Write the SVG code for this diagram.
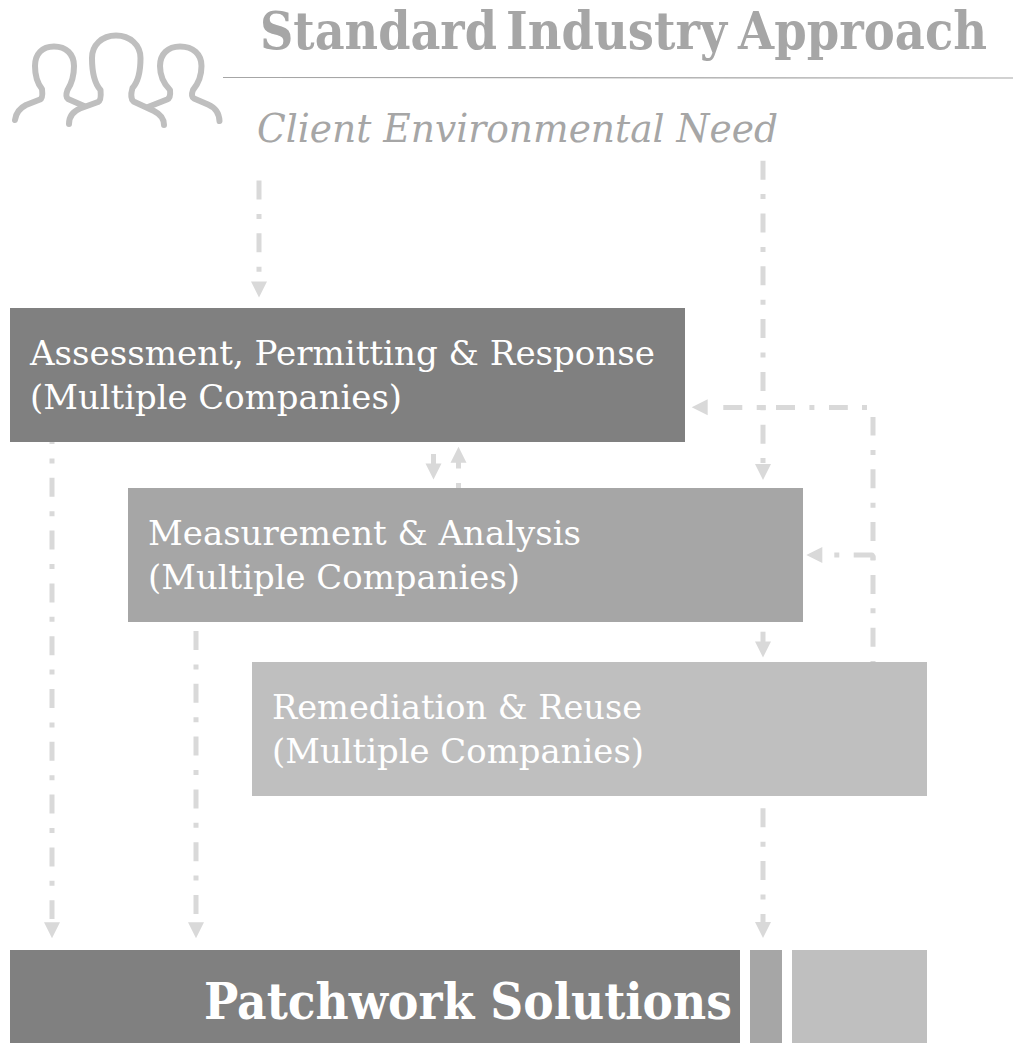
<svg xmlns="http://www.w3.org/2000/svg" width="1013" height="1043" viewBox="0 0 1013 1043">
  <style>
    text { font-family: "DejaVu Serif", "Liberation Serif", serif; }
    .light { fill: #ffffff; font-size: 33px; }
    .head { fill: #a6a6a6; }
    .dd { fill: none; stroke: #d9d9d9; stroke-width: 5; stroke-dasharray: 19 14.4 5 14.4; }
    .solid { fill: none; stroke: #d9d9d9; stroke-width: 5; }
    .ah { fill: #d9d9d9; }
    .person { fill: none; stroke: #bfbfbf; stroke-width: 6; stroke-linecap: round; stroke-linejoin: round; }
  </style>
  <defs>
    <polygon id="ah" class="ah" points="-8,0 8,0 0,16"/>
  </defs>
  <rect width="1013" height="1043" fill="#ffffff"/>

  <g id="connectors">
    <path class="dd" d="M259,180.500V272"/>
    <use href="#ah" x="259" y="281.500"/>
    <path class="dd" d="M763,160.700V463"/>
    <use href="#ah" x="763" y="464"/>
    <path class="solid" d="M433.500,454V466"/>
    <use href="#ah" x="433.500" y="463.500"/>
    <path class="solid" d="M458.500,458V468.500M458.500,483V488"/>
    <use href="#ah" transform="translate(458.500,462.700) rotate(180)"/>
    <path class="dd" d="M873,646.700V417M873,666V661"/>
    <path class="solid" d="M867,407.500H862M847.800,407.500H829M814.400,407.500H809.400M795,407.500H776M765.700,407.500H756.700M742.300,407.500H723.300"/>
    <use href="#ah" transform="translate(707.700,407.300) rotate(90)"/>
    <path class="solid" d="M853.700,555H871.500Q873,555 873,558V560M839.300,555H834.300"/>
    <use href="#ah" transform="translate(822.300,555) rotate(90)"/>
    <path class="solid" d="M763,631.700V644"/>
    <use href="#ah" x="763" y="641.500"/>
    <path class="dd" d="M763,808.300V925"/>
    <use href="#ah" x="763" y="922"/>
    <path class="dd" d="M52,442V919" style="stroke-dashoffset:17"/>
    <use href="#ah" x="52" y="922.300"/>
    <path class="dd" d="M196,631V914.500"/>
    <use href="#ah" x="196" y="922.300"/>
  </g>

  <g id="icon-people">
    <path class="person" d="M15,120C16,112 20,108 26,105L40,99.500C43,98 42.500,93 42,89C38,84 35,76 35,66C35,54 42,46.500 54,46.500C66,46.500 74,54 74,66C74,76 72,83 67.500,90C66,94 65.500,97 68,99L84,106"/>
    <path class="person" d="M69,124C69,116 74,111 80,108.500L98,102C101,100.500 101,95 100.500,90C95,84 92,74 92,58C92,45 102,35.500 116,35.500C130,35.500 140.500,45 140.500,58C140.500,74 138,82 132.500,88C131,93 131,99 133.500,101.500L154,111C160,114 164,118 164,125"/>
    <path class="person" d="M148,107L167,99.500C170.500,98 170.500,94 170,90C163,83 160,76 160,66C160,54 168,46.500 180,46.500C193,46.500 201.500,54 201.500,66C201.500,76 198,84 193,90C191.500,94 191.500,97 194,98.500L208,104.500C214,107 219,112 219.500,121"/>
  </g>

  <g id="header">
    <text class="head" transform="translate(260,49) scale(0.82,1)" font-size="53" font-weight="700"><tspan x="0" textLength="289" lengthAdjust="spacingAndGlyphs">Standard</tspan> <tspan x="300" textLength="269.500" lengthAdjust="spacingAndGlyphs">Industry</tspan> <tspan x="583" textLength="303.700" lengthAdjust="spacingAndGlyphs">Approach</tspan></text>
    <line x1="223" y1="77.500" x2="1013" y2="78" stroke="#a6a6a6" stroke-width="1.200"/>
    <text class="head" x="257" y="142" font-size="40" font-style="italic" textLength="521" lengthAdjust="spacingAndGlyphs">Client Environmental Need</text>
  </g>

  <g id="node-assessment">
    <rect x="10" y="308" width="675" height="134" fill="#808080"/>
    <text class="light" x="30" y="365" textLength="625" lengthAdjust="spacingAndGlyphs">Assessment, Permitting &amp; Response</text>
    <text class="light" x="30" y="409" textLength="372" lengthAdjust="spacingAndGlyphs">(Multiple Companies)</text>
  </g>
  <g id="node-measurement">
    <rect x="128" y="488" width="675" height="134" fill="#a6a6a6"/>
    <text class="light" x="148" y="545" textLength="433" lengthAdjust="spacingAndGlyphs">Measurement &amp; Analysis</text>
    <text class="light" x="148" y="589" textLength="372" lengthAdjust="spacingAndGlyphs">(Multiple Companies)</text>
  </g>
  <g id="node-remediation">
    <rect x="252" y="662" width="675" height="134" fill="#bfbfbf"/>
    <text class="light" x="272" y="719" textLength="370" lengthAdjust="spacingAndGlyphs">Remediation &amp; Reuse</text>
    <text class="light" x="272" y="763" textLength="372" lengthAdjust="spacingAndGlyphs">(Multiple Companies)</text>
  </g>
  <g id="node-patchwork">
    <rect x="10" y="950" width="730" height="93" fill="#808080"/>
    <rect x="750" y="950" width="32" height="93" fill="#a6a6a6"/>
    <rect x="792" y="950" width="135" height="93" fill="#bfbfbf"/>
    <text x="204" y="1019" font-size="50" font-weight="700" fill="#ffffff" textLength="528" lengthAdjust="spacingAndGlyphs">Patchwork Solutions</text>
  </g>
</svg>
